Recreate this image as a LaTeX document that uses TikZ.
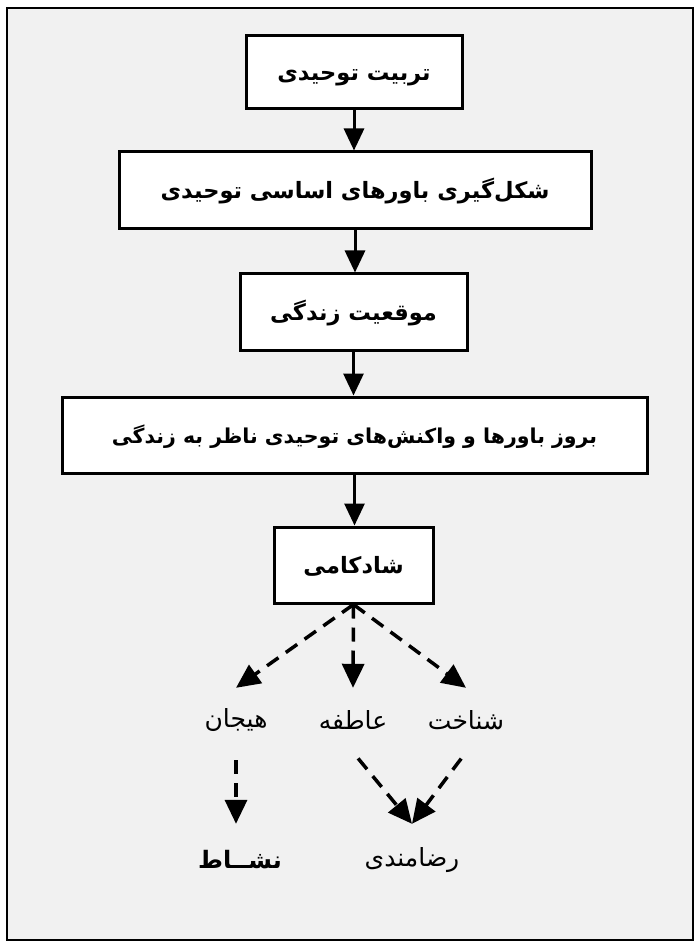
\documentclass[tikz,border=0pt]{standalone}
\usepackage{fontspec}
\newfontfamily\fa[Script=Arabic]{DejaVu Sans}
\TeXXeTstate=1
\usetikzlibrary{arrows.meta}
\definecolor{bg}{RGB}{241,241,241}
\begin{document}
\begin{tikzpicture}[x=1pt,y=-1pt,
  box/.style={draw,line width=3pt,fill=white,inner sep=0pt,
    text height=16pt,text depth=0pt,
    font=\fa\bfseries\fontsize{22.5}{26}\selectfont},
  lbl/.style={inner sep=0pt,minimum width=70pt,
    font=\fa\fontsize{25}{28}\selectfont},
  solidarr/.style={line width=3pt,-{Triangle[width=20pt,length=22pt]}},
  dasharr/.style={line width=3.5pt,dash pattern=on 14pt off 9pt,
    -{Triangle[width=22pt,length=24pt]}}]
\useasboundingbox (0,0) rectangle (700,949);
\fill[white] (0,0) rectangle (700,949);
\draw[line width=2pt,fill=bg] (7,8) rectangle (693,940);
% boxes
\node[box,minimum width=216pt,minimum height=73pt] (b1) at (354,72.5) {\beginR تربیت توحیدی\endR};
\node[box,minimum width=472pt,minimum height=77pt] (b2) at (355,190.5) {\beginR شکل‌گیری باورهای اساسی توحیدی\endR};
\node[box,minimum width=227pt,minimum height=76pt] (b3) at (353.5,312) {\beginR موقعیت زندگی\endR};
\node[box,minimum width=585pt,minimum height=76pt,font=\fa\bfseries\fontsize{20.5}{24}\selectfont] (b4) at (354.5,435) {\beginR بروز باورها و واکنش‌های توحیدی ناظر به زندگی\endR};
\node[box,minimum width=159pt,minimum height=76pt] (b5) at (353.5,565) {\beginR شادکامی\endR};
% labels
\node[lbl,minimum height=64pt] (hay) at (236,720) {\beginR هیجان\endR};
\node[lbl,minimum height=64pt] (ata) at (353,720) {\beginR عاطفه\endR};
\node[lbl,minimum height=64pt] (sho) at (466,720) {\beginR شناخت\endR};
\node[lbl,minimum height=72pt,font=\fa\bfseries\fontsize{24}{28}\selectfont] (nes) at (240,860) {\beginR نشــاط\endR};
\node[lbl,minimum height=72pt] (rez) at (412,860) {\beginR رضامندی\endR};
% solid arrows
\draw[solidarr] (b1.south) -- (b1.south |- b2.north);
\draw[solidarr] (b2.south) -- (b2.south |- b3.north);
\draw[solidarr] (b3.south) -- (b3.south |- b4.north);
\draw[solidarr] (b4.south) -- (b4.south |- b5.north);
% dashed arrows
\draw[dasharr] (b5.south) -- (hay.north);
\draw[dasharr] (b5.south) -- (ata.north);
\draw[dasharr] (b5.south) -- (sho.north);
\draw[dasharr,shorten <=8pt] (hay.south) -- (hay.south |- nes.north);
\draw[dasharr,shorten <=8pt] (ata.south) -- (rez.north);
\draw[dasharr,shorten <=8pt] (sho.south) -- (rez.north);
\end{tikzpicture}
\end{document}
